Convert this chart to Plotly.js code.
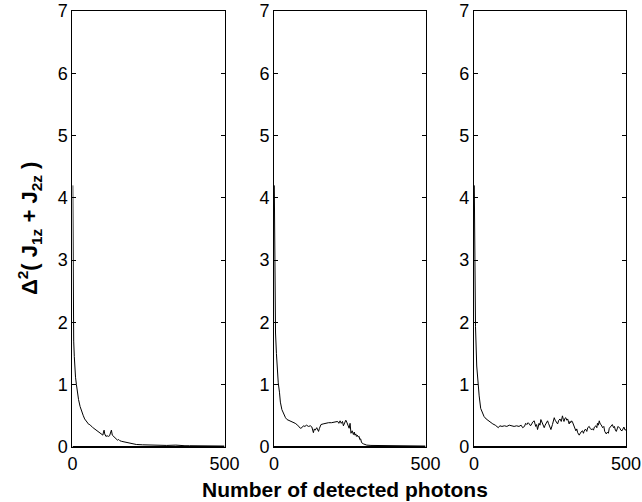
<!DOCTYPE html>
<html>
<head>
<meta charset="utf-8">
<script src="https://cdn.plot.ly/plotly-3.0.1.min.js"></script>
<style>html,body{margin:0;padding:0;background:#fff}#chart{width:642px;height:502px}</style>
</head>
<body>
<div id="chart"></div>
<script>
// Panel 1 (left)
var x1 = [1, 2, 3, 4, 6, 8, 10, 13, 16, 20, 25, 30, 35, 40, 45, 50, 54, 57, 60, 63, 67, 70, 75, 79, 85, 90, 95, 100, 102, 104, 106, 110, 114, 118, 122, 125, 128, 131, 135, 139, 143, 148, 152, 156, 162, 170, 178, 190, 200, 210, 230, 250, 280, 310, 340, 350, 360, 370, 385, 400, 430, 460, 500];
var y1 = [4.2, 3.0, 2.0, 1.7, 1.45, 1.25, 1.12, 1.0, 0.88, 0.76, 0.65, 0.56, 0.51, 0.45, 0.41, 0.38, 0.36, 0.36, 0.34, 0.33, 0.31, 0.30, 0.28, 0.27, 0.24, 0.22, 0.21, 0.19, 0.24, 0.27, 0.21, 0.17, 0.18, 0.17, 0.18, 0.22, 0.27, 0.19, 0.17, 0.15, 0.13, 0.11, 0.12, 0.10, 0.09, 0.08, 0.07, 0.06, 0.05, 0.04, 0.035, 0.03, 0.025, 0.025, 0.03, 0.025, 0.03, 0.02, 0.02, 0.02, 0.02, 0.015, 0.015];

// Panel 2 (middle)
var x2 = [1, 2, 3, 5, 8, 11, 14, 18, 21, 26, 32, 38, 43, 48, 55, 62, 70, 78, 83, 87, 92, 97, 102, 107, 114, 120, 125, 128, 130, 133, 136, 141, 144, 147, 150, 155, 162, 170, 180, 190, 202, 210, 214, 218, 222, 226, 229, 233, 237, 240, 244, 248, 251, 254, 258, 262, 265, 267, 270, 272, 275, 278, 281, 283, 286, 289, 295, 300, 306, 320, 350, 400, 450, 500];
var y2 = [4.2, 3.2, 2.4, 1.83, 1.5, 1.25, 1.03, 0.88, 0.72, 0.6, 0.52, 0.47, 0.44, 0.43, 0.42, 0.4, 0.38, 0.35, 0.32, 0.30, 0.31, 0.34, 0.33, 0.35, 0.33, 0.34, 0.32, 0.28, 0.23, 0.29, 0.27, 0.31, 0.28, 0.25, 0.30, 0.36, 0.37, 0.38, 0.39, 0.39, 0.40, 0.41, 0.38, 0.42, 0.38, 0.41, 0.34, 0.40, 0.43, 0.40, 0.33, 0.30, 0.38, 0.22, 0.26, 0.20, 0.24, 0.19, 0.21, 0.17, 0.19, 0.16, 0.17, 0.12, 0.13, 0.07, 0.05, 0.04, 0.03, 0.025, 0.025, 0.02, 0.02, 0.015];

// Panel 3 (right)
var x3 = [1, 2, 3, 5, 9, 13, 17, 22, 27, 33, 40, 47, 55, 62, 70, 77, 80, 85, 92, 100, 108, 116, 125, 132, 140, 148, 155, 160, 166, 170, 174, 178, 182, 186, 190, 193, 198, 203, 206, 209, 214, 217, 220, 223, 226, 231, 234, 237, 242, 245, 248, 253, 258, 261, 264, 267, 270, 275, 279, 283, 287, 291, 294, 296, 299, 302, 305, 308, 313, 316, 318, 321, 324, 327, 330, 335, 338, 341, 346, 349, 352, 357, 360, 362, 365, 368, 371, 374, 379, 382, 385, 390, 393, 396, 401, 404, 406, 409, 412, 415, 418, 423, 427, 430, 435, 439, 442, 445, 450, 455, 459, 462, 465, 468, 471, 474, 480, 483, 487, 490, 493, 497, 500];
var y3 = [4.2, 3.2, 2.5, 1.93, 1.3, 1.02, 0.82, 0.62, 0.55, 0.49, 0.45, 0.42, 0.39, 0.37, 0.35, 0.33, 0.31, 0.34, 0.33, 0.34, 0.33, 0.35, 0.34, 0.33, 0.34, 0.33, 0.35, 0.31, 0.33, 0.38, 0.36, 0.39, 0.37, 0.34, 0.37, 0.40, 0.42, 0.33, 0.36, 0.28, 0.38, 0.35, 0.44, 0.40, 0.36, 0.31, 0.35, 0.38, 0.42, 0.38, 0.35, 0.28, 0.36, 0.42, 0.47, 0.43, 0.40, 0.37, 0.43, 0.45, 0.41, 0.50, 0.44, 0.41, 0.46, 0.47, 0.43, 0.45, 0.37, 0.41, 0.39, 0.42, 0.40, 0.36, 0.34, 0.26, 0.29, 0.23, 0.19, 0.22, 0.24, 0.26, 0.22, 0.25, 0.28, 0.28, 0.25, 0.31, 0.33, 0.30, 0.28, 0.29, 0.27, 0.32, 0.34, 0.31, 0.38, 0.35, 0.42, 0.37, 0.36, 0.31, 0.33, 0.25, 0.21, 0.24, 0.22, 0.30, 0.34, 0.36, 0.31, 0.33, 0.27, 0.25, 0.29, 0.33, 0.30, 0.27, 0.26, 0.30, 0.32, 0.27, 0.28];

var xTicks = [0, 500];
var yTicks = [0, 1, 2, 3, 4, 5, 6, 7];

var FONT = 'Liberation Sans, Arial, Helvetica, sans-serif';
var lineStyle = {color: '#000', width: 1};

function xa(dom) {
  return {domain: dom, range: [0, 500], tickvals: xTicks, ticktext: xTicks.map(String),
    ticks: 'inside', ticklen: 4, tickcolor: '#000', showline: true, linecolor: '#000', linewidth: 1,
    mirror: 'ticks', showgrid: false, zeroline: false, fixedrange: true,
    tickfont: {family: FONT, size: 18, color: '#000'}};
}
function ya(anchor) {
  return {domain: [0.1096, 0.9781], range: [0, 7], tickvals: yTicks, ticktext: yTicks.map(String),
    ticks: 'inside', ticklen: 4, tickcolor: '#000', showline: true, linecolor: '#000', linewidth: 1,
    mirror: 'ticks', showgrid: false, zeroline: false, anchor: anchor, fixedrange: true,
    tickfont: {family: FONT, size: 18, color: '#000'}};
}

var data = [
  {x: x1, y: y1, type: 'scatter', mode: 'lines', line: lineStyle, xaxis: 'x', yaxis: 'y', hoverinfo: 'skip'},
  {x: x2, y: y2, type: 'scatter', mode: 'lines', line: lineStyle, xaxis: 'x2', yaxis: 'y2', hoverinfo: 'skip'},
  {x: x3, y: y3, type: 'scatter', mode: 'lines', line: lineStyle, xaxis: 'x3', yaxis: 'y3', hoverinfo: 'skip'}
];

var layout = {
  width: 642, height: 502,
  margin: {l: 0, r: 0, t: 0, b: 0},
  paper_bgcolor: '#fff', plot_bgcolor: '#fff',
  showlegend: false,
  xaxis: Object.assign(xa([0.1129, 0.3497]), {anchor: 'y'}),
  yaxis: ya('x'),
  xaxis2: Object.assign(xa([0.4268, 0.6628]), {anchor: 'y2'}),
  yaxis2: ya('x2'),
  xaxis3: Object.assign(xa([0.7383, 0.9751]), {anchor: 'y3'}),
  yaxis3: ya('x3'),
  shapes: [
    {type: 'line', xref: 'x', yref: 'y', x0: 0, x1: 500, y0: 0, y1: 0, line: {color: '#000', width: 2}},
    {type: 'line', xref: 'x2', yref: 'y2', x0: 0, x1: 500, y0: 0, y1: 0, line: {color: '#000', width: 2}},
    {type: 'line', xref: 'x3', yref: 'y3', x0: 0, x1: 500, y0: 0, y1: 0, line: {color: '#000', width: 2}}
  ],
  annotations: [
    {text: '<b>Number of detected photons</b>', xref: 'paper', yref: 'paper', x: 345 / 642, y: 1 - 489 / 502,
     xanchor: 'center', yanchor: 'middle', showarrow: false, font: {family: FONT, size: 21, color: '#000'}},
    {text: '<b>Δ<sup>2</sup>( J<sub>1z</sub> + J<sub>2z</sub> )</b>', xref: 'paper', yref: 'paper', x: 29 / 642, y: 1 - 229 / 502,
     xanchor: 'center', yanchor: 'middle', textangle: -90, showarrow: false, font: {family: FONT, size: 22, color: '#000'}}
  ]
};

Plotly.newPlot('chart', data, layout, {displayModeBar: false, staticPlot: true});
</script>
</body>
</html>
